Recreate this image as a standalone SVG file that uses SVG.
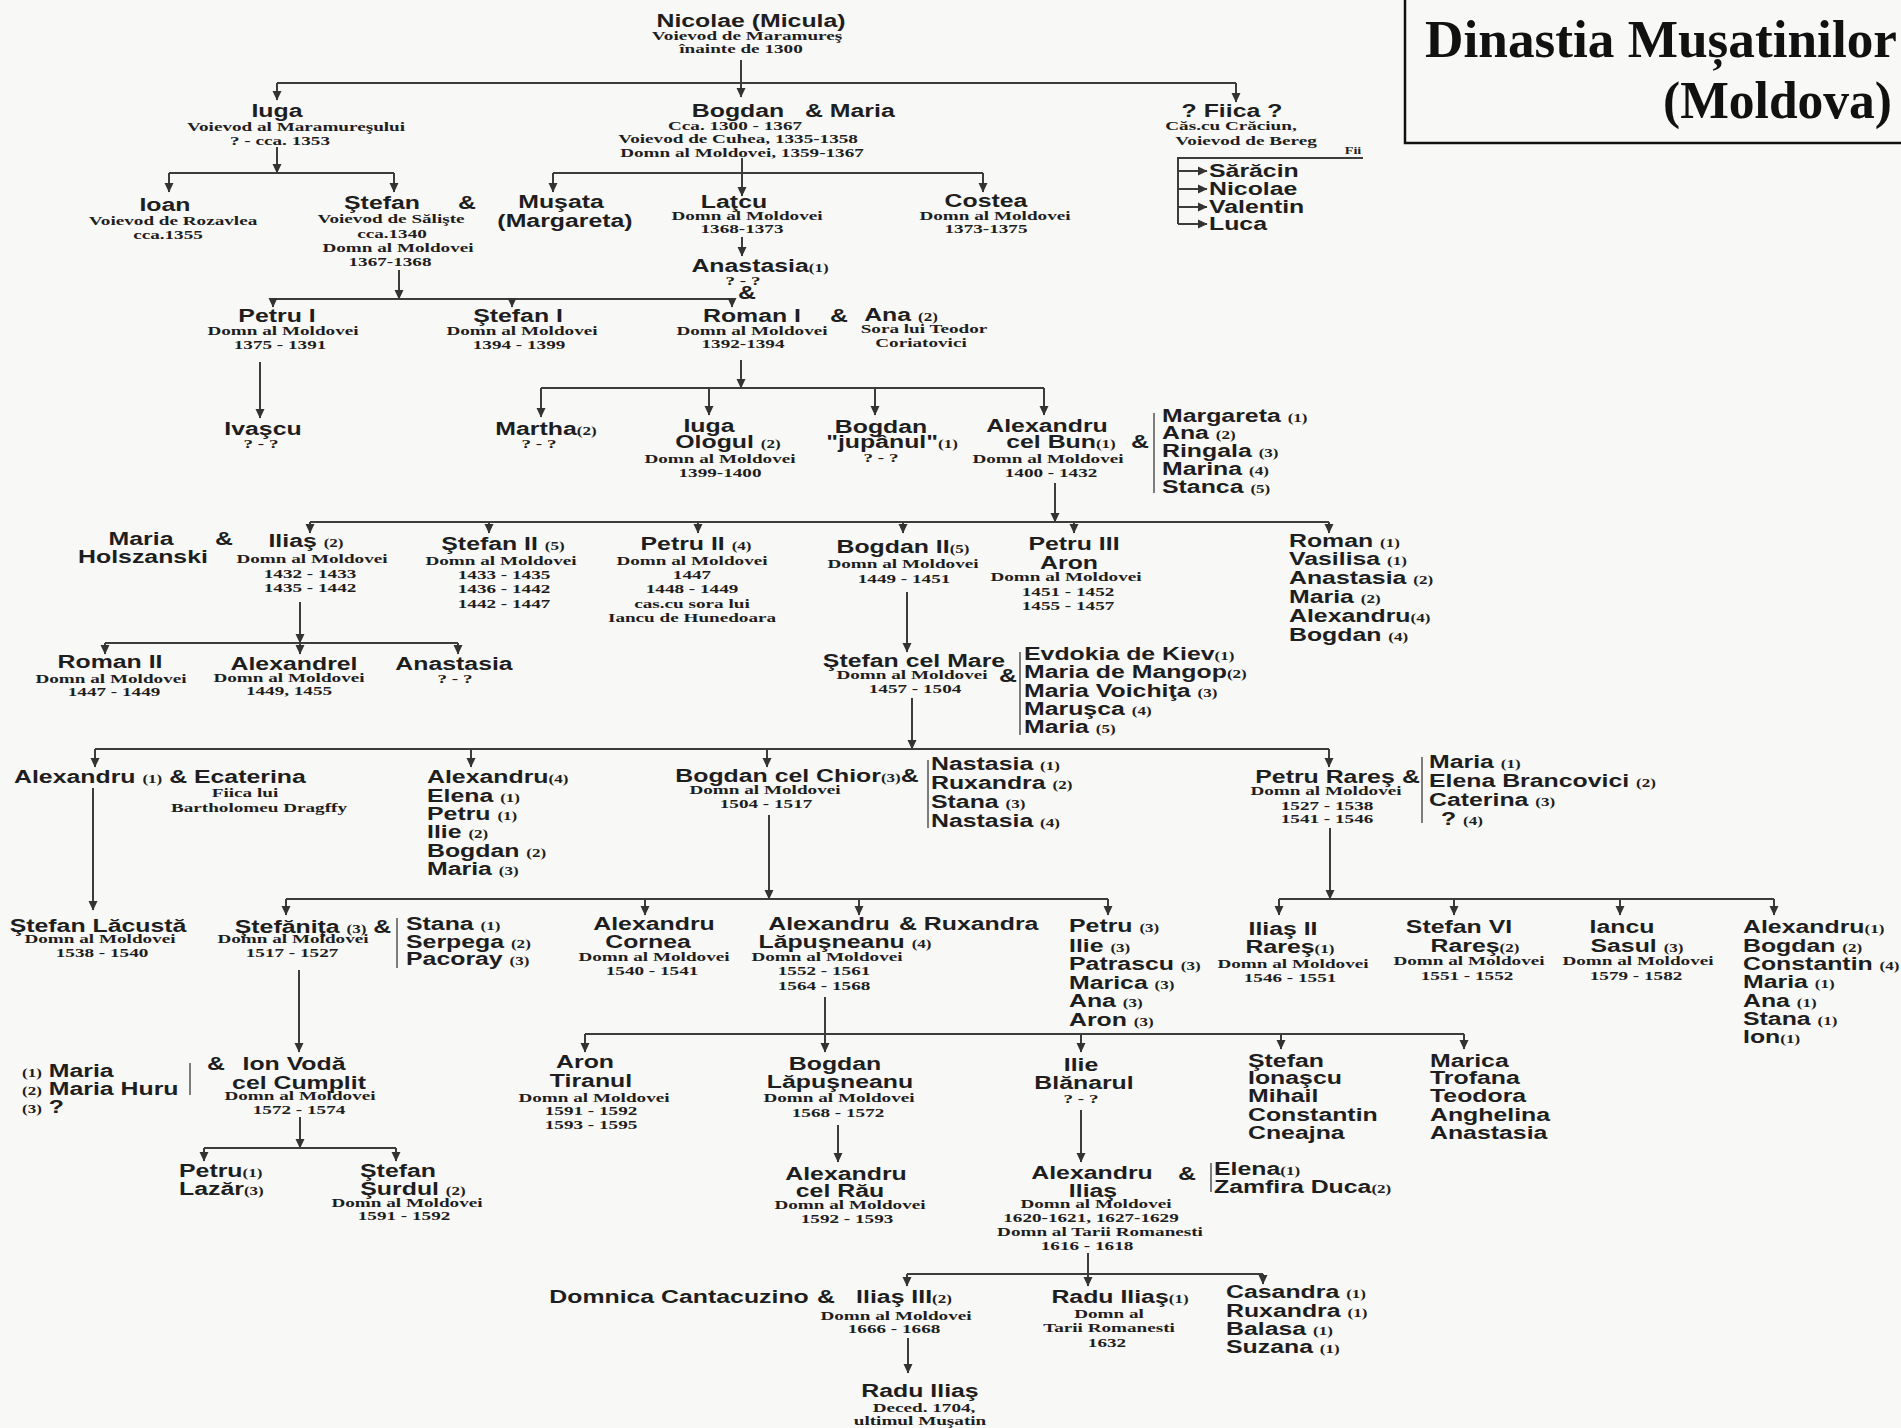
<svg xmlns="http://www.w3.org/2000/svg" width="1901" height="1428" viewBox="0 0 1901 1428">
<defs>
<style>
.n{font-family:"Liberation Sans",Arial,sans-serif;font-weight:bold;font-size:17.5px;text-anchor:middle;fill:#1e1e1e}
.l{font-family:"Liberation Sans",Arial,sans-serif;font-weight:bold;font-size:17.5px;text-anchor:start;fill:#1e1e1e}
.d{font-family:"Liberation Serif","Times New Roman",serif;font-weight:bold;font-size:13.5px;text-anchor:middle;fill:#1e1e1e}
.s{font-family:"Liberation Serif","Times New Roman",serif;font-weight:bold;font-size:12px}
.t{font-family:"Liberation Serif","Times New Roman",serif;font-weight:bold;font-size:53px;fill:#111}
.ar{marker-end:url(#a)}
.bar{stroke:#555;stroke-width:1.5}
</style>
<marker id="a" markerWidth="10" markerHeight="10" refX="9" refY="5" orient="auto" markerUnits="userSpaceOnUse">
<path d="M0,0.5 L9.5,5 L0,9.5 z" fill="#333"/>
</marker>
</defs>
<rect x="0" y="0" width="1901" height="1428" fill="#f8f8f6"/>

<g id="title">
<rect x="1405" y="-4" width="510" height="147" fill="none" stroke="#111" stroke-width="2.5"/>
<text class="t" x="1425" y="57" textLength="472" lengthAdjust="spacingAndGlyphs">Dinastia Mușatinilor</text>
<text class="t" x="1663" y="118" textLength="229" lengthAdjust="spacingAndGlyphs">(Moldova)</text>
</g>

<g id="connectors" fill="none" stroke="#3c3c3c" stroke-width="2">
<path d="M277,83 H1236"/>
<path class="ar" d="M741,60 V97"/>
<path class="ar" d="M277,83 V100"/>
<path class="ar" d="M1236,83 V102"/>
<path class="ar" d="M277,147 V173"/>
<path d="M169,173 H394"/>
<path class="ar" d="M169,173 V192"/>
<path class="ar" d="M394,173 V192"/>
<path d="M553,173 H983"/>
<path class="ar" d="M742,158 V196"/>
<path class="ar" d="M553,173 V192"/>
<path class="ar" d="M983,173 V192"/>
<path class="ar" d="M742,237 V256"/>
<path d="M1363,158 H1178 V224"/>
<path class="ar" d="M1178,171 H1207"/>
<path class="ar" d="M1178,189 H1207"/>
<path class="ar" d="M1178,207 H1207"/>
<path class="ar" d="M1178,224 H1207"/>
<path class="ar" d="M399,270 V299"/>
<path d="M273,299 H732"/>
<path class="ar" d="M273,299 V307"/>
<path class="ar" d="M512,299 V307"/>
<path class="ar" d="M732,299 V307"/>
<path class="ar" d="M260,362 V418"/>
<path class="ar" d="M741,360 V388"/>
<path d="M541,388 H1044"/>
<path class="ar" d="M541,388 V417"/>
<path class="ar" d="M709,388 V415"/>
<path class="ar" d="M875,388 V415"/>
<path class="ar" d="M1044,388 V415"/>
<path class="bar" d="M1154,413 V493"/>
<path class="ar" d="M1055,483 V522"/>
<path d="M310,522 H1329"/>
<path class="ar" d="M310,522 V533"/>
<path class="ar" d="M489,522 V533"/>
<path class="ar" d="M698,522 V533"/>
<path class="ar" d="M903,522 V533"/>
<path class="ar" d="M1074,522 V533"/>
<path class="ar" d="M1329,522 V533"/>
<path class="ar" d="M300,602 V643"/>
<path d="M105,643 H458"/>
<path class="ar" d="M105,643 V654"/>
<path class="ar" d="M300,643 V654"/>
<path class="ar" d="M458,643 V654"/>
<path class="ar" d="M907,592 V652"/>
<path class="bar" d="M1020,652 V735"/>
<path class="ar" d="M912,698 V749"/>
<path d="M95,749 H1329"/>
<path class="ar" d="M95,749 V767"/>
<path class="ar" d="M471,749 V767"/>
<path class="ar" d="M767,749 V767"/>
<path class="ar" d="M1329,749 V767"/>
<path class="ar" d="M93,788 V910"/>
<path class="bar" d="M928,760 V828"/>
<path class="ar" d="M769,815 V899"/>
<path d="M286,899 H1108"/>
<path class="ar" d="M286,899 V915"/>
<path class="ar" d="M645,899 V915"/>
<path class="ar" d="M859,899 V915"/>
<path class="ar" d="M1108,899 V915"/>
<path class="bar" d="M1422,757 V823"/>
<path class="ar" d="M1330,828 V899"/>
<path d="M1279,899 H1774"/>
<path class="ar" d="M1279,899 V915"/>
<path class="ar" d="M1454,899 V915"/>
<path class="ar" d="M1620,899 V915"/>
<path class="ar" d="M1774,899 V915"/>
<path class="bar" d="M397,918 V968"/>
<path class="ar" d="M299,970 V1052"/>
<path class="bar" d="M190,1063 V1095"/>
<path class="ar" d="M300,1117 V1148"/>
<path d="M204,1148 H396"/>
<path class="ar" d="M204,1148 V1161"/>
<path class="ar" d="M396,1148 V1161"/>
<path class="ar" d="M825,997 V1052"/>
<path d="M585,1034 H1464"/>
<path class="ar" d="M585,1034 V1052"/>
<path class="ar" d="M1081,1034 V1052"/>
<path class="ar" d="M1281,1034 V1049"/>
<path class="ar" d="M1464,1034 V1049"/>
<path class="ar" d="M838,1125 V1162"/>
<path class="ar" d="M1081,1110 V1162"/>
<path class="bar" d="M1211,1163 V1192"/>
<path class="ar" d="M1088,1253 V1286"/>
<path d="M907,1274 H1263"/>
<path class="ar" d="M907,1274 V1286"/>
<path class="ar" d="M1263,1274 V1284"/>
<path class="ar" d="M908,1338 V1373"/>
</g>

<g id="n-nicolae">
<text class="n" transform="translate(751 27) scale(1.42 1)">Nicolae (Micula)</text>
<text class="d" transform="translate(747 40) scale(1.42 1)">Voievod de Maramureş</text>
<text class="d" transform="translate(741 53) scale(1.42 1)">înainte de 1300</text>
</g>
<g id="n-iuga">
<text class="n" transform="translate(277 117) scale(1.42 1)">Iuga</text>
<text class="d" transform="translate(296 131) scale(1.42 1)">Voievod al Maramureşului</text>
<text class="d" transform="translate(280 145) scale(1.42 1)">? - cca. 1353</text>
</g>
<g id="n-bogdan">
<text class="n" transform="translate(738 117) scale(1.42 1)">Bogdan</text>
<text class="l" transform="translate(805 117) scale(1.42 1)">&amp; Maria</text>
<text class="d" transform="translate(735 130) scale(1.42 1)">Cca. 1300 - 1367</text>
<text class="d" transform="translate(738 143) scale(1.42 1)">Voievod de Cuhea, 1335-1358</text>
<text class="d" transform="translate(742 157) scale(1.42 1)">Domn al Moldovei, 1359-1367</text>
</g>
<g id="n-fiica">
<text class="n" transform="translate(1232 117) scale(1.42 1)">? Fiica ?</text>
<text class="d" transform="translate(1231 130) scale(1.42 1)">Căs.cu Crăciun,</text>
<text class="d" transform="translate(1246 145) scale(1.42 1)">Voievod de Bereg</text>
<text class="d" style="font-size:10px" transform="translate(1353 154) scale(1.42 1)">Fii</text>
<text class="l" transform="translate(1209 177) scale(1.42 1)">Sărăcin</text>
<text class="l" transform="translate(1209 195) scale(1.42 1)">Nicolae</text>
<text class="l" transform="translate(1209 213) scale(1.42 1)">Valentin</text>
<text class="l" transform="translate(1209 230) scale(1.42 1)">Luca</text>
</g>
<g id="n-ioan">
<text class="n" transform="translate(165 211) scale(1.42 1)">Ioan</text>
<text class="d" transform="translate(173 225) scale(1.42 1)">Voievod de Rozavlea</text>
<text class="d" transform="translate(168 239) scale(1.42 1)">cca.1355</text>
</g>
<g id="n-stefan">
<text class="n" transform="translate(382 209) scale(1.42 1)">Ştefan</text>
<text class="n" transform="translate(467 209) scale(1.42 1)">&amp;</text>
<text class="d" transform="translate(391 223) scale(1.42 1)">Voievod de Sălişte</text>
<text class="d" transform="translate(392 238) scale(1.42 1)">cca.1340</text>
<text class="d" transform="translate(398 252) scale(1.42 1)">Domn al Moldovei</text>
<text class="d" transform="translate(390 266) scale(1.42 1)">1367-1368</text>
</g>
<g id="n-musata">
<text class="n" transform="translate(561 208) scale(1.42 1)">Muşata</text>
<text class="n" transform="translate(565 227) scale(1.42 1)">(Margareta)</text>
</g>
<g id="n-latcu">
<text class="n" transform="translate(734 208) scale(1.42 1)">Laţcu</text>
<text class="d" transform="translate(747 220) scale(1.42 1)">Domn al Moldovei</text>
<text class="d" transform="translate(742 233) scale(1.42 1)">1368-1373</text>
</g>
<g id="n-costea">
<text class="n" transform="translate(986 207) scale(1.42 1)">Costea</text>
<text class="d" transform="translate(995 220) scale(1.42 1)">Domn al Moldovei</text>
<text class="d" transform="translate(986 233) scale(1.42 1)">1373-1375</text>
</g>
<g id="n-anastasia">
<text class="n" transform="translate(760 272) scale(1.42 1)">Anastasia<tspan class="s">(1)</tspan></text>
<text class="d" transform="translate(743 285) scale(1.42 1)">? - ?</text>
<text class="n" transform="translate(747 299) scale(1.42 1)">&amp;</text>
</g>
<g id="n-petru1">
<text class="n" transform="translate(277 322) scale(1.42 1)">Petru I</text>
<text class="d" transform="translate(283 335) scale(1.42 1)">Domn al Moldovei</text>
<text class="d" transform="translate(280 349) scale(1.42 1)">1375 - 1391</text>
</g>
<g id="n-stefan1">
<text class="n" transform="translate(518 322) scale(1.42 1)">Ştefan I</text>
<text class="d" transform="translate(522 335) scale(1.42 1)">Domn al Moldovei</text>
<text class="d" transform="translate(519 349) scale(1.42 1)">1394 - 1399</text>
</g>
<g id="n-roman1">
<text class="n" transform="translate(752 322) scale(1.42 1)">Roman I</text>
<text class="n" transform="translate(839 322) scale(1.42 1)">&amp;</text>
<text class="d" transform="translate(752 335) scale(1.42 1)">Domn al Moldovei</text>
<text class="d" transform="translate(743 348) scale(1.42 1)">1392-1394</text>
</g>
<g id="n-ana">
<text class="n" transform="translate(901 321) scale(1.42 1)">Ana <tspan class="s">(2)</tspan></text>
<text class="d" transform="translate(924 333) scale(1.42 1)">Sora lui Teodor</text>
<text class="d" transform="translate(921 347) scale(1.42 1)">Coriatovici</text>
</g>
<g id="n-ivascu">
<text class="n" transform="translate(263 435) scale(1.42 1)">Ivaşcu</text>
<text class="d" transform="translate(261 448) scale(1.42 1)">? - ?</text>
</g>
<g id="n-martha">
<text class="n" transform="translate(546 435) scale(1.42 1)">Martha<tspan class="s">(2)</tspan></text>
<text class="d" transform="translate(539 448) scale(1.42 1)">? - ?</text>
</g>
<g id="n-iuga-ologul">
<text class="n" transform="translate(709 432) scale(1.42 1)">Iuga</text>
<text class="n" transform="translate(728 448) scale(1.42 1)">Ologul <tspan class="s">(2)</tspan></text>
<text class="d" transform="translate(720 463) scale(1.42 1)">Domn al Moldovei</text>
<text class="d" transform="translate(720 477) scale(1.42 1)">1399-1400</text>
</g>
<g id="n-bogdan-jupanul">
<text class="n" transform="translate(881 433) scale(1.42 1)">Bogdan</text>
<text class="n" transform="translate(892 448) scale(1.42 1)">"jupânul"<tspan class="s">(1)</tspan></text>
<text class="d" transform="translate(881 462) scale(1.42 1)">? - ?</text>
</g>
<g id="n-alexandru-cel-bun">
<text class="n" transform="translate(1047 432) scale(1.42 1)">Alexandru</text>
<text class="n" transform="translate(1061 448) scale(1.42 1)">cel Bun<tspan class="s">(1)</tspan></text>
<text class="n" transform="translate(1140 448) scale(1.42 1)">&amp;</text>
<text class="d" transform="translate(1048 463) scale(1.42 1)">Domn al Moldovei</text>
<text class="d" transform="translate(1051 477) scale(1.42 1)">1400 - 1432</text>
</g>
<g id="n-alexandru-cel-bun-wives">
<text class="l" transform="translate(1162 422) scale(1.42 1)">Margareta <tspan class="s">(1)</tspan></text>
<text class="l" transform="translate(1162 439) scale(1.42 1)">Ana <tspan class="s">(2)</tspan></text>
<text class="l" transform="translate(1162 457) scale(1.42 1)">Ringala <tspan class="s">(3)</tspan></text>
<text class="l" transform="translate(1162 475) scale(1.42 1)">Marina <tspan class="s">(4)</tspan></text>
<text class="l" transform="translate(1162 493) scale(1.42 1)">Stanca <tspan class="s">(5)</tspan></text>
</g>
<g id="n-maria-holszanski">
<text class="n" transform="translate(141 545) scale(1.42 1)">Maria</text>
<text class="n" transform="translate(143 563) scale(1.42 1)">Holszanski</text>
<text class="n" transform="translate(224 545) scale(1.42 1)">&amp;</text>
</g>
<g id="n-ilias">
<text class="n" transform="translate(306 547) scale(1.42 1)">Iliaş <tspan class="s">(2)</tspan></text>
<text class="d" transform="translate(312 563) scale(1.42 1)">Domn al Moldovei</text>
<text class="d" transform="translate(310 578) scale(1.42 1)">1432 - 1433</text>
<text class="d" transform="translate(310 592) scale(1.42 1)">1435 - 1442</text>
</g>
<g id="n-stefan2">
<text class="n" transform="translate(503 550) scale(1.42 1)">Ştefan II <tspan class="s">(5)</tspan></text>
<text class="d" transform="translate(501 565) scale(1.42 1)">Domn al Moldovei</text>
<text class="d" transform="translate(504 579) scale(1.42 1)">1433 - 1435</text>
<text class="d" transform="translate(504 593) scale(1.42 1)">1436 - 1442</text>
<text class="d" transform="translate(504 608) scale(1.42 1)">1442 - 1447</text>
</g>
<g id="n-petru2">
<text class="n" transform="translate(696 550) scale(1.42 1)">Petru II <tspan class="s">(4)</tspan></text>
<text class="d" transform="translate(692 565) scale(1.42 1)">Domn al Moldovei</text>
<text class="d" transform="translate(692 579) scale(1.42 1)">1447</text>
<text class="d" transform="translate(692 593) scale(1.42 1)">1448 - 1449</text>
<text class="d" transform="translate(692 608) scale(1.42 1)">cas.cu sora lui</text>
<text class="d" transform="translate(692 622) scale(1.42 1)">Iancu de Hunedoara</text>
</g>
<g id="n-bogdan2">
<text class="n" transform="translate(903 553) scale(1.42 1)">Bogdan II<tspan class="s">(5)</tspan></text>
<text class="d" transform="translate(903 568) scale(1.42 1)">Domn al Moldovei</text>
<text class="d" transform="translate(904 583) scale(1.42 1)">1449 - 1451</text>
</g>
<g id="n-petru3">
<text class="n" transform="translate(1074 550) scale(1.42 1)">Petru III</text>
<text class="n" transform="translate(1069 569) scale(1.42 1)">Aron</text>
<text class="d" transform="translate(1066 581) scale(1.42 1)">Domn al Moldovei</text>
<text class="d" transform="translate(1068 596) scale(1.42 1)">1451 - 1452</text>
<text class="d" transform="translate(1068 610) scale(1.42 1)">1455 - 1457</text>
</g>
<g id="n-roman-list">
<text class="l" transform="translate(1289 547) scale(1.42 1)">Roman <tspan class="s">(1)</tspan></text>
<text class="l" transform="translate(1289 565) scale(1.42 1)">Vasilisa <tspan class="s">(1)</tspan></text>
<text class="l" transform="translate(1289 584) scale(1.42 1)">Anastasia <tspan class="s">(2)</tspan></text>
<text class="l" transform="translate(1289 603) scale(1.42 1)">Maria <tspan class="s">(2)</tspan></text>
<text class="l" transform="translate(1289 622) scale(1.42 1)">Alexandru<tspan class="s">(4)</tspan></text>
<text class="l" transform="translate(1289 641) scale(1.42 1)">Bogdan <tspan class="s">(4)</tspan></text>
</g>
<g id="n-roman2">
<text class="n" transform="translate(110 668) scale(1.42 1)">Roman II</text>
<text class="d" transform="translate(111 683) scale(1.42 1)">Domn al Moldovei</text>
<text class="d" transform="translate(114 696) scale(1.42 1)">1447 - 1449</text>
</g>
<g id="n-alexandrel">
<text class="n" transform="translate(294 670) scale(1.42 1)">Alexandrel</text>
<text class="d" transform="translate(289 682) scale(1.42 1)">Domn al Moldovei</text>
<text class="d" transform="translate(289 695) scale(1.42 1)">1449, 1455</text>
</g>
<g id="n-anastasia2">
<text class="n" transform="translate(454 670) scale(1.42 1)">Anastasia</text>
<text class="d" transform="translate(455 683) scale(1.42 1)">? - ?</text>
</g>
<g id="n-stefan-cel-mare">
<text class="n" transform="translate(914 667) scale(1.42 1)">Ştefan cel Mare</text>
<text class="d" transform="translate(912 679) scale(1.42 1)">Domn al Moldovei</text>
<text class="n" transform="translate(1008 682) scale(1.42 1)">&amp;</text>
<text class="d" transform="translate(915 693) scale(1.42 1)">1457 - 1504</text>
</g>
<g id="n-stefan-cel-mare-wives">
<text class="l" transform="translate(1024 660) scale(1.42 1)">Evdokia de Kiev<tspan class="s">(1)</tspan></text>
<text class="l" transform="translate(1024 678) scale(1.42 1)">Maria de Mangop<tspan class="s">(2)</tspan></text>
<text class="l" transform="translate(1024 697) scale(1.42 1)">Maria Voichiţa <tspan class="s">(3)</tspan></text>
<text class="l" transform="translate(1024 715) scale(1.42 1)">Maruşca <tspan class="s">(4)</tspan></text>
<text class="l" transform="translate(1024 733) scale(1.42 1)">Maria <tspan class="s">(5)</tspan></text>
</g>
<g id="n-alexandru1">
<text class="l" transform="translate(14 783) scale(1.42 1)">Alexandru <tspan class="s">(1)</tspan> &amp; Ecaterina</text>
<text class="d" transform="translate(245 797) scale(1.42 1)">Fiica lui</text>
<text class="d" transform="translate(259 812) scale(1.42 1)">Bartholomeu Dragffy</text>
</g>
<g id="n-alexandru4-list">
<text class="l" transform="translate(427 783) scale(1.42 1)">Alexandru<tspan class="s">(4)</tspan></text>
<text class="l" transform="translate(427 802) scale(1.42 1)">Elena <tspan class="s">(1)</tspan></text>
<text class="l" transform="translate(427 820) scale(1.42 1)">Petru <tspan class="s">(1)</tspan></text>
<text class="l" transform="translate(427 838) scale(1.42 1)">Ilie <tspan class="s">(2)</tspan></text>
<text class="l" transform="translate(427 857) scale(1.42 1)">Bogdan <tspan class="s">(2)</tspan></text>
<text class="l" transform="translate(427 875) scale(1.42 1)">Maria <tspan class="s">(3)</tspan></text>
</g>
<g id="n-bogdan-cel-chior">
<text class="n" transform="translate(797 782) scale(1.42 1)">Bogdan cel Chior<tspan class="s">(3)</tspan>&amp;</text>
<text class="d" transform="translate(765 794) scale(1.42 1)">Domn al Moldovei</text>
<text class="d" transform="translate(766 808) scale(1.42 1)">1504 - 1517</text>
</g>
<g id="n-bogdan-cel-chior-wives">
<text class="l" transform="translate(931 770) scale(1.42 1)">Nastasia <tspan class="s">(1)</tspan></text>
<text class="l" transform="translate(931 789) scale(1.42 1)">Ruxandra <tspan class="s">(2)</tspan></text>
<text class="l" transform="translate(931 808) scale(1.42 1)">Stana <tspan class="s">(3)</tspan></text>
<text class="l" transform="translate(931 827) scale(1.42 1)">Nastasia <tspan class="s">(4)</tspan></text>
</g>
<g id="n-petru-rares">
<text class="n" transform="translate(1325 783) scale(1.42 1)">Petru Rareş</text>
<text class="n" transform="translate(1411 783) scale(1.42 1)">&amp;</text>
<text class="d" transform="translate(1326 795) scale(1.42 1)">Domn al Moldovei</text>
<text class="d" transform="translate(1327 810) scale(1.42 1)">1527 - 1538</text>
<text class="d" transform="translate(1327 823) scale(1.42 1)">1541 - 1546</text>
</g>
<g id="n-petru-rares-wives">
<text class="l" transform="translate(1429 768) scale(1.42 1)">Maria <tspan class="s">(1)</tspan></text>
<text class="l" transform="translate(1429 787) scale(1.42 1)">Elena Brancovici <tspan class="s">(2)</tspan></text>
<text class="l" transform="translate(1429 806) scale(1.42 1)">Caterina <tspan class="s">(3)</tspan></text>
<text class="l" transform="translate(1441 825) scale(1.42 1)">? <tspan class="s">(4)</tspan></text>
</g>
<g id="n-stefan-lacusta">
<text class="n" transform="translate(98 932) scale(1.42 1)">Ştefan Lăcustă</text>
<text class="d" transform="translate(100 943) scale(1.42 1)">Domn al Moldovei</text>
<text class="d" transform="translate(102 957) scale(1.42 1)">1538 - 1540</text>
</g>
<g id="n-stefanita">
<text class="n" transform="translate(313 933) scale(1.42 1)">Ştefăniţa <tspan class="s">(3)</tspan> &amp;</text>
<text class="d" transform="translate(293 943) scale(1.42 1)">Domn al Moldovei</text>
<text class="d" transform="translate(292 957) scale(1.42 1)">1517 - 1527</text>
</g>
<g id="n-stefanita-wives">
<text class="l" transform="translate(406 930) scale(1.42 1)">Stana <tspan class="s">(1)</tspan></text>
<text class="l" transform="translate(406 948) scale(1.42 1)">Serpega <tspan class="s">(2)</tspan></text>
<text class="l" transform="translate(406 965) scale(1.42 1)">Pacoray <tspan class="s">(3)</tspan></text>
</g>
<g id="n-alexandru-cornea">
<text class="n" transform="translate(654 930) scale(1.42 1)">Alexandru</text>
<text class="n" transform="translate(648 948) scale(1.42 1)">Cornea</text>
<text class="d" transform="translate(654 961) scale(1.42 1)">Domn al Moldovei</text>
<text class="d" transform="translate(652 975) scale(1.42 1)">1540 - 1541</text>
</g>
<g id="n-lapusneanu">
<text class="n" transform="translate(829 930) scale(1.42 1)">Alexandru</text>
<text class="l" transform="translate(899 930) scale(1.42 1)">&amp; Ruxandra</text>
<text class="n" transform="translate(845 948) scale(1.42 1)">Lăpuşneanu <tspan class="s">(4)</tspan></text>
<text class="d" transform="translate(827 961) scale(1.42 1)">Domn al Moldovei</text>
<text class="d" transform="translate(824 975) scale(1.42 1)">1552 - 1561</text>
<text class="d" transform="translate(824 990) scale(1.42 1)">1564 - 1568</text>
</g>
<g id="n-petru3-list">
<text class="l" transform="translate(1069 932) scale(1.42 1)">Petru <tspan class="s">(3)</tspan></text>
<text class="l" transform="translate(1069 952) scale(1.42 1)">Ilie <tspan class="s">(3)</tspan></text>
<text class="l" transform="translate(1069 970) scale(1.42 1)">Patrascu <tspan class="s">(3)</tspan></text>
<text class="l" transform="translate(1069 989) scale(1.42 1)">Marica <tspan class="s">(3)</tspan></text>
<text class="l" transform="translate(1069 1007) scale(1.42 1)">Ana <tspan class="s">(3)</tspan></text>
<text class="l" transform="translate(1069 1026) scale(1.42 1)">Aron <tspan class="s">(3)</tspan></text>
</g>
<g id="n-ilias2">
<text class="n" transform="translate(1283 935) scale(1.42 1)">Iliaş II</text>
<text class="n" transform="translate(1290 953) scale(1.42 1)">Rareş<tspan class="s">(1)</tspan></text>
<text class="d" transform="translate(1293 968) scale(1.42 1)">Domn al Moldovei</text>
<text class="d" transform="translate(1290 982) scale(1.42 1)">1546 - 1551</text>
</g>
<g id="n-stefan6">
<text class="n" transform="translate(1459 933) scale(1.42 1)">Stefan VI</text>
<text class="n" transform="translate(1475 952) scale(1.42 1)">Rareş<tspan class="s">(2)</tspan></text>
<text class="d" transform="translate(1469 965) scale(1.42 1)">Domn al Moldovei</text>
<text class="d" transform="translate(1467 980) scale(1.42 1)">1551 - 1552</text>
</g>
<g id="n-iancu">
<text class="n" transform="translate(1622 933) scale(1.42 1)">Iancu</text>
<text class="n" transform="translate(1637 952) scale(1.42 1)">Sasul <tspan class="s">(3)</tspan></text>
<text class="d" transform="translate(1638 965) scale(1.42 1)">Domn al Moldovei</text>
<text class="d" transform="translate(1636 980) scale(1.42 1)">1579 - 1582</text>
</g>
<g id="n-alexandru-list2">
<text class="l" transform="translate(1743 933) scale(1.42 1)">Alexandru<tspan class="s">(1)</tspan></text>
<text class="l" transform="translate(1743 952) scale(1.42 1)">Bogdan <tspan class="s">(2)</tspan></text>
<text class="l" transform="translate(1743 970) scale(1.42 1)">Constantin <tspan class="s">(4)</tspan></text>
<text class="l" transform="translate(1743 988) scale(1.42 1)">Maria <tspan class="s">(1)</tspan></text>
<text class="l" transform="translate(1743 1007) scale(1.42 1)">Ana <tspan class="s">(1)</tspan></text>
<text class="l" transform="translate(1743 1025) scale(1.42 1)">Stana <tspan class="s">(1)</tspan></text>
<text class="l" transform="translate(1743 1043) scale(1.42 1)">Ion<tspan class="s">(1)</tspan></text>
</g>
<g id="n-ion-voda-wives">
<text class="l" transform="translate(22 1077) scale(1.42 1)"><tspan class="s">(1)</tspan> Maria</text>
<text class="l" transform="translate(22 1095) scale(1.42 1)"><tspan class="s">(2)</tspan> Maria Huru</text>
<text class="l" transform="translate(22 1113) scale(1.42 1)"><tspan class="s">(3)</tspan>  ?</text>
</g>
<g id="n-ion-voda">
<text class="n" transform="translate(216 1070) scale(1.42 1)">&amp;</text>
<text class="n" transform="translate(294 1070) scale(1.42 1)">Ion Vodă</text>
<text class="n" transform="translate(299 1089) scale(1.42 1)">cel Cumplit</text>
<text class="d" transform="translate(300 1100) scale(1.42 1)">Domn al Moldovei</text>
<text class="d" transform="translate(299 1114) scale(1.42 1)">1572 - 1574</text>
</g>
<g id="n-aron-tiranul">
<text class="n" transform="translate(585 1068) scale(1.42 1)">Aron</text>
<text class="n" transform="translate(591 1087) scale(1.42 1)">Tiranul</text>
<text class="d" transform="translate(594 1102) scale(1.42 1)">Domn al Moldovei</text>
<text class="d" transform="translate(591 1115) scale(1.42 1)">1591 - 1592</text>
<text class="d" transform="translate(591 1129) scale(1.42 1)">1593 - 1595</text>
</g>
<g id="n-bogdan-lapusneanu">
<text class="n" transform="translate(835 1070) scale(1.42 1)">Bogdan</text>
<text class="n" transform="translate(840 1088) scale(1.42 1)">Lăpuşneanu</text>
<text class="d" transform="translate(839 1102) scale(1.42 1)">Domn al Moldovei</text>
<text class="d" transform="translate(838 1117) scale(1.42 1)">1568 - 1572</text>
</g>
<g id="n-ilie-blanarul">
<text class="n" transform="translate(1081 1071) scale(1.42 1)">Ilie</text>
<text class="n" transform="translate(1084 1089) scale(1.42 1)">Blănarul</text>
<text class="d" transform="translate(1081 1103) scale(1.42 1)">? - ?</text>
</g>
<g id="n-stefan-list">
<text class="l" transform="translate(1248 1067) scale(1.42 1)">Ştefan</text>
<text class="l" transform="translate(1248 1084) scale(1.42 1)">Ionaşcu</text>
<text class="l" transform="translate(1248 1102) scale(1.42 1)">Mihail</text>
<text class="l" transform="translate(1248 1121) scale(1.42 1)">Constantin</text>
<text class="l" transform="translate(1248 1139) scale(1.42 1)">Cneajna</text>
</g>
<g id="n-marica-list">
<text class="l" transform="translate(1430 1067) scale(1.42 1)">Marica</text>
<text class="l" transform="translate(1430 1084) scale(1.42 1)">Trofana</text>
<text class="l" transform="translate(1430 1102) scale(1.42 1)">Teodora</text>
<text class="l" transform="translate(1430 1121) scale(1.42 1)">Anghelina</text>
<text class="l" transform="translate(1430 1139) scale(1.42 1)">Anastasia</text>
</g>
<g id="n-petru-lazar">
<text class="l" transform="translate(179 1177) scale(1.42 1)">Petru<tspan class="s">(1)</tspan></text>
<text class="l" transform="translate(179 1195) scale(1.42 1)">Lazăr<tspan class="s">(3)</tspan></text>
</g>
<g id="n-stefan-surdul">
<text class="n" transform="translate(398 1177) scale(1.42 1)">Ştefan</text>
<text class="n" transform="translate(413 1195) scale(1.42 1)">Şurdul <tspan class="s">(2)</tspan></text>
<text class="d" transform="translate(407 1207) scale(1.42 1)">Domn al Moldovei</text>
<text class="d" transform="translate(404 1220) scale(1.42 1)">1591 - 1592</text>
</g>
<g id="n-alexandru-cel-rau">
<text class="n" transform="translate(846 1180) scale(1.42 1)">Alexandru</text>
<text class="n" transform="translate(840 1197) scale(1.42 1)">cel Rău</text>
<text class="d" transform="translate(850 1209) scale(1.42 1)">Domn al Moldovei</text>
<text class="d" transform="translate(847 1223) scale(1.42 1)">1592 - 1593</text>
</g>
<g id="n-alexandru-ilias">
<text class="n" transform="translate(1092 1179) scale(1.42 1)">Alexandru</text>
<text class="n" transform="translate(1187 1180) scale(1.42 1)">&amp;</text>
<text class="n" transform="translate(1093 1197) scale(1.42 1)">Iliaş</text>
<text class="d" transform="translate(1096 1208) scale(1.42 1)">Domn al Moldovei</text>
<text class="d" transform="translate(1091 1222) scale(1.42 1)">1620-1621, 1627-1629</text>
<text class="d" transform="translate(1100 1236) scale(1.42 1)">Domn al Tarii Romanesti</text>
<text class="d" transform="translate(1087 1250) scale(1.42 1)">1616 - 1618</text>
</g>
<g id="n-alexandru-ilias-wives">
<text class="l" transform="translate(1214 1175) scale(1.42 1)">Elena<tspan class="s">(1)</tspan></text>
<text class="l" transform="translate(1214 1193) scale(1.42 1)">Zamfira Duca<tspan class="s">(2)</tspan></text>
</g>
<g id="n-domnica">
<text class="n" transform="translate(679 1303) scale(1.42 1)">Domnica Cantacuzino</text>
<text class="n" transform="translate(826 1303) scale(1.42 1)">&amp;</text>
</g>
<g id="n-ilias3">
<text class="n" transform="translate(904 1303) scale(1.42 1)">Iliaş III<tspan class="s">(2)</tspan></text>
<text class="d" transform="translate(896 1320) scale(1.42 1)">Domn al Moldovei</text>
<text class="d" transform="translate(894 1333) scale(1.42 1)">1666 - 1668</text>
</g>
<g id="n-radu-ilias1">
<text class="n" transform="translate(1120 1303) scale(1.42 1)">Radu Iliaş<tspan class="s">(1)</tspan></text>
<text class="d" transform="translate(1109 1318) scale(1.42 1)">Domn al</text>
<text class="d" transform="translate(1109 1332) scale(1.42 1)">Tarii Romanesti</text>
<text class="d" transform="translate(1107 1347) scale(1.42 1)">1632</text>
</g>
<g id="n-casandra-list">
<text class="l" transform="translate(1226 1298) scale(1.42 1)">Casandra <tspan class="s">(1)</tspan></text>
<text class="l" transform="translate(1226 1317) scale(1.42 1)">Ruxandra <tspan class="s">(1)</tspan></text>
<text class="l" transform="translate(1226 1335) scale(1.42 1)">Balasa <tspan class="s">(1)</tspan></text>
<text class="l" transform="translate(1226 1353) scale(1.42 1)">Suzana <tspan class="s">(1)</tspan></text>
</g>
<g id="n-radu-ilias">
<text class="n" transform="translate(920 1397) scale(1.42 1)">Radu Iliaş</text>
<text class="d" transform="translate(924 1412) scale(1.42 1)">Deced. 1704,</text>
<text class="d" transform="translate(920 1425) scale(1.42 1)">ultimul Muşatin</text>
</g>
</svg>
